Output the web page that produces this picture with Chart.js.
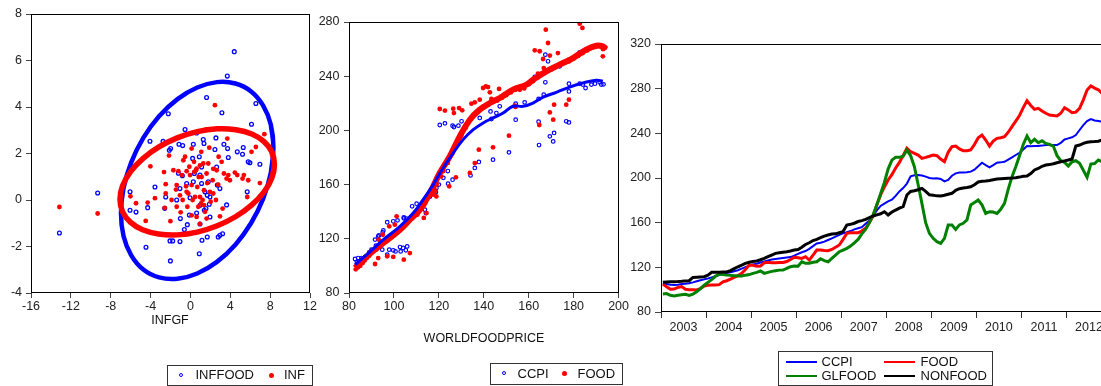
<!DOCTYPE html>
<html>
<head>
<meta charset="utf-8">
<script src="https://cdn.jsdelivr.net/npm/chart.js@4.4.0/dist/chart.umd.min.js"></script>
<style>
  body { margin: 0; width: 1101px; height: 386px; overflow: hidden; background: #fff; position: relative;
         font-family: "Liberation Sans", Arial, sans-serif; color: #111; }
  canvas { position: absolute; }
  .title { position: absolute; font-size: 12.5px; line-height: 14px; transform: translateX(-50%); white-space: nowrap; }
  .legend { position: absolute; border: 1px solid #333; background: #fff; }
  .item { position: absolute; font-size: 13px; line-height: 14px; white-space: nowrap; }
  .circ { position: absolute; width: 2px; height: 2px; border: 1.2px solid #0000ff; border-radius: 50%; }
  .dot { position: absolute; width: 5px; height: 5px; background: #ff0000; border-radius: 50%; }
  .sw { position: absolute; width: 31px; height: 2.5px; }
</style>
</head>
<body>
<canvas id="c1" width="320" height="320" style="left:0;top:0"></canvas>
<canvas id="c2" width="315" height="320" style="left:315px;top:0"></canvas>
<canvas id="c3" width="520" height="340" style="left:625px;top:0"></canvas>

<div class="title" style="left:170px;top:313px">INFGF</div>
<div class="title" style="left:484px;top:331px">WORLDFOODPRICE</div>

<div class="legend" style="left:167px;top:365px;width:144px;height:19px"></div>
<div class="circ" style="left:179px;top:372.5px"></div>
<div class="item" style="left:195.5px;top:368px">INFFOOD</div>
<div class="dot" style="left:268.5px;top:372.5px"></div>
<div class="item" style="left:284px;top:368px">INF</div>

<div class="legend" style="left:490px;top:363px;width:131px;height:20px"></div>
<div class="circ" style="left:501.5px;top:371px"></div>
<div class="item" style="left:517.5px;top:366.5px">CCPI</div>
<div class="dot" style="left:562px;top:371px"></div>
<div class="item" style="left:577.5px;top:366.5px">FOOD</div>

<div class="legend" style="left:778px;top:351px;width:213px;height:33px"></div>
<div class="sw" style="left:785.5px;top:360.5px;background:#0000ff;height:2px"></div>
<div class="item" style="left:821.5px;top:354.5px">CCPI</div>
<div class="sw" style="left:883.5px;top:360.5px;background:#ff0000"></div>
<div class="item" style="left:920.5px;top:354.5px">FOOD</div>
<div class="sw" style="left:785.5px;top:374.5px;background:#008000"></div>
<div class="item" style="left:821.5px;top:368.5px">GLFOOD</div>
<div class="sw" style="left:883.5px;top:374.5px;background:#000"></div>
<div class="item" style="left:920.5px;top:368.5px">NONFOOD</div>

<script>
// ---- panel 1: INFGF (x) vs INFFOOD / INF (y) ----
const inffoodPts = [[-13.15,-1.42],[-9.31,0.3],[-4.46,-2.03],[-6.06,-0.44],[-5.46,-0.52],[-6.06,0.35],[-4.29,-0.33],[-3.56,0.56],[-4.06,2.53],[-2.22,3.71],[-2.75,2.52],[-1.99,2.21],[-2.48,0.13],[-2.58,-0.36],[-2.05,-1.76],[-1.78,-1.76],[-2.01,-2.62],[-1.38,0],[-1.15,2.4],[-1.05,-1.79],[-1.01,-0.8],[-0.78,2.34],[-0.54,3.03],[-0.61,-1.27],[-0.31,-1.06],[-0.11,-0.65],[-0.04,0.1],[0.29,2.4],[0.29,0.78],[0.62,2.88],[0.62,-0.56],[0.96,-0.23],[0.89,-2.31],[0.96,-1.03],[1.16,-1.73],[1.29,2.6],[1.36,2.43],[1.62,4.41],[1.46,0.35],[1.56,-0.37],[1.96,-0.73],[1.69,-1.59],[1.79,0.78],[1.96,0.13],[2.46,2.17],[2.56,2.67],[2.63,1.42],[2.79,-1.59],[2.96,-1.52],[3.16,3.75],[3.23,-1.45],[3.36,2.4],[3.63,-0.21],[3.7,5.33],[3.8,1.83],[3.73,2.21],[4.4,6.38],[4.7,2.07],[5.23,1.97],[5.3,2.26],[5.7,0.35],[5.8,1.64],[5.97,1.6],[6.13,3.26],[6.57,4.15],[6.97,1.54],[2.7,0.64],[2.96,0.49],[-1.21,1.15],[-0.81,1.04],[0.22,1.79],[0.89,1.86],[1.12,1.42],[1.12,0.71],[1.39,-0.44],[1.89,-0.18],[-2.12,2.14],[0.39,1.14],[-0.38,0.71],[-1.05,0.49],[1.69,0.2],[0.96,1.07]];
const infPts = [[-13.15,-0.3],[-9.31,-0.58],[-4.49,-0.9],[-4.29,-0.11],[-4.02,1.45],[-5.46,-0.14],[-6.02,0.16],[-3.56,0.08],[-2.65,1.2],[-2.58,-0.34],[-2.48,0.68],[-2.48,0.28],[-2.15,1.91],[-2.01,-0.91],[-1.71,1.28],[-1.45,0.45],[-1.38,0.64],[-1.21,1.24],[-1.05,0.2],[-0.98,-0.53],[-0.84,1.07],[-0.78,0],[-0.71,1.71],[-0.54,1.86],[-0.44,0.59],[-0.38,1.24],[-0.31,-0.29],[-0.21,0.28],[-0.04,1.07],[0.12,2.21],[0.22,0],[0.36,1.64],[0.39,1.21],[0.56,1.28],[0.69,0.56],[0.79,-0.29],[0.83,0.99],[0.96,-1.03],[1.09,2.07],[1.22,0],[1.29,1.57],[1.36,0.42],[1.46,-0.51],[1.56,3.03],[1.62,1.14],[1.69,0.73],[1.79,1.57],[1.89,2.25],[1.96,0.35],[2.03,-0.07],[2.23,0.85],[2.29,1.34],[2.46,4.08],[2.56,0],[2.63,1.28],[2.79,0.66],[2.83,1.86],[2.96,-0.7],[3.13,1.64],[3.23,-0.37],[3.36,1.14],[3.63,0.92],[3.7,2.64],[3.8,1.07],[3.96,0.85],[4.46,1.18],[4.7,1.07],[5.23,0.92],[5.36,1.07],[5.8,0.85],[5.7,0.13],[6.13,2.07],[6.57,2.28],[6.97,0.73],[7.42,2.83],[0.12,-0.66],[0.62,-0.73],[1.62,-0.8],[-1.89,0],[-1.38,-0.29],[-0.38,0.35],[0.46,0.13],[0.96,0.13],[1.12,0.99],[0.12,0.64],[0.62,1.35],[0.96,1.49],[2.29,0.28],[1.06,-0.15],[1.36,-0.22],[-0.11,1.43]];
// outlines of the two ellipses, read around the curve
const inffoodEllipse = [[8.33,2.25],[8.07,3.24],[7.3,4.06],[6.09,4.67],[4.51,5.01],[2.66,5.07],[0.68,4.84],[-1.3,4.34],[-3.15,3.6],[-4.73,2.67],[-5.94,1.62],[-6.71,0.51],[-6.97,-0.57],[-6.71,-1.56],[-5.94,-2.38],[-4.73,-2.99],[-3.15,-3.33],[-1.3,-3.39],[0.68,-3.16],[2.66,-2.66],[4.51,-1.92],[6.09,-0.99],[7.3,0.06],[8.07,1.17]];
const infEllipse = [[8.43,1.53],[8.17,2.07],[7.39,2.51],[6.16,2.84],[4.56,3.02],[2.69,3.06],[0.68,2.94],[-1.33,2.67],[-3.2,2.27],[-4.8,1.77],[-6.03,1.21],[-6.81,0.61],[-7.07,0.03],[-6.81,-0.51],[-6.03,-0.95],[-4.8,-1.28],[-3.2,-1.46],[-1.33,-1.5],[0.68,-1.38],[2.69,-1.11],[4.56,-0.71],[6.16,-0.21],[7.39,0.35],[8.17,0.95]];

// ---- panel 2: WORLDFOODPRICE (x) vs CCPI / FOOD (y) ----
const ccpiPts = [[82.7,105.1],[84.1,105.8],[85.6,105.8],[87.1,106.6],[91.6,119.4],[93,121.8],[95,124.8],[97,132.2],[99.7,132.9],[101.6,133.6],[97.9,112],[99.7,111.5],[102.7,113.9],[104.1,113.2],[104.4,135.1],[105.6,134.9],[105.9,114.4],[105.3,111.5],[108.1,144],[110.1,145.9],[112.3,144],[113.8,141.5],[114.2,139],[118.9,157.5],[118.7,154.5],[120.4,204],[122.7,205.2],[126.1,203.5],[126.7,202.5],[128.7,203.5],[130.1,206.7],[124.1,160.7],[126.1,163.6],[134.1,166.8],[136,172.3],[137.8,176.7],[134.5,209.2],[138.2,209.2],[140,217.8],[143,214],[143.4,208.4],[145.6,212.8],[147.1,217.8],[144.1,178.4],[151.2,183.8],[154.2,219.7],[154.2,207.9],[158.2,220.7],[162.7,239.4],[164.4,223.2],[164.4,206.4],[164.6,189.2],[167.4,255.9],[168.6,251],[167.4,235.5],[166.7,226.4],[169.4,195.6],[170.9,191.9],[171.3,198.1],[173.8,247.3],[176.7,206.7],[177.9,205.9],[177.9,234.5],[177.9,228.8],[182.7,257.6],[182.7,234.5],[184.1,233.8],[185.3,231.3],[187.9,233.8],[189.5,234.5],[191.6,235.5],[192.3,233.8],[193.3,234],[93.3,122.5],[95.3,126.2],[104.4,135.8],[100.7,110.7],[103,110.7],[97,108.3],[94.8,112],[83.5,103],[86,104.5],[89,110],[90,112],[92,115],[94,118],[100,124],[103,128],[107,134],[111,142],[116,151],[120,160],[122,165],[124,170]];
const foodPts = [[120.4,215.8],[122.7,214.6],[126.4,216],[126.7,212.8],[129,216.5],[130.4,214.8],[134.5,219.7],[136,220.7],[138.2,222.7],[139.7,231.3],[140.9,232.5],[141.9,232],[142.7,228.1],[143.4,223.2],[146.8,230.6],[162.7,259.1],[164.9,258.4],[167.6,274.3],[168.6,264.5],[166.4,252.7],[169.4,255.2],[173,257.1],[177.9,252.2],[182.7,278.8],[183.9,275.6],[193,254.7],[161.9,236.2],[164.1,241.9],[166.7,246],[164.7,204],[169.4,213.3],[171.3,219],[170.9,207.9],[176.7,219],[177.9,222.7],[153.8,218.3],[154.1,217.3],[151.2,196.1],[144.1,187.5],[137.8,185.8],[136,175.9],[133.8,168.6],[127.6,165.4],[124.6,158.7],[114.5,139],[113.3,135.4],[110.4,137.8],[107.1,109.5],[104.4,104.6],[99.7,106.6],[97,107.1],[91.6,101.4],[93,105.8],[97.9,129.2],[100.4,130.4],[101.2,136.6],[95,123],[93.2,119.4],[117.5,152.6],[118.2,155],[118.9,151.3],[83,97.5],[84,99],[85,100],[86,102],[87,104],[88,106],[89,107.5],[90,110],[92,112],[94,115],[96,118],[98,121],[100,124],[102,126],[104,130],[106,133],[108,136],[110,139],[112,143],[114,147],[116,152],[118,157],[119,160],[121,166],[122,170],[124,176],[126,183],[128,189],[130,196],[132,202],[134,208],[136,212],[138,215],[140,217],[142,219],[144,221],[146,222],[148,224],[150,226],[152,228],[154,230],[156,230],[158,231],[160,234],[162,237],[164,239],[166,242],[168,244],[170,245],[172,247],[174,249],[176,250],[178,251],[180,253],[182,255],[184,257],[186,259],[188,261],[190,262],[192,262],[193,260],[194,261]];
const ccpiFit = [[82.7,100.9],[87.9,108.3],[95.3,119.4],[102.7,129.2],[108.6,139],[113,148.9],[117.5,160],[121.9,172.3],[126.4,183.3],[130.8,193.2],[135.3,200.5],[139.7,205.5],[144.1,209.2],[148.6,212.8],[153,217.8],[157.5,217.8],[161.9,220.2],[166.4,224.6],[172.3,228.1],[178.2,232],[184.1,235],[190.1,237],[193,236.2]];
const foodFit = [[82.7,98.5],[87.9,107],[95.3,116.9],[102.7,126.7],[107.1,134.1],[111.6,141.5],[116,153.8],[120.4,168.6],[124.9,180.9],[129.3,195.6],[133.8,207.9],[138.2,215.3],[142.7,220.2],[147.1,223.9],[153,230.1],[159,233.8],[161.9,237.4],[167.9,243.6],[173.8,248.5],[179.7,253.4],[185.6,259.6],[190.1,262.5],[193,262],[194.5,260]];

// ---- panel 3: monthly series from 2003M01 ----
const startYear = 2003;
const yearLabels = ['2003','2004','2005','2006','2007','2008','2009','2010','2011','2012'];
const ccpi = [105.7,105.0,104.5,104.2,104.5,105.0,105.3,105.7,106.5,107.5,108.4,109.2,
  110.0,111.0,112.0,113.0,114.0,114.8,115.5,116.5,117.4,118.8,120.2,121.5,
  122.5,123.2,124.3,125.3,126.2,127.0,127.5,128.0,128.4,128.8,129.2,130.5,
  132.0,133.5,134.6,136.5,139.0,141.3,142.0,143.0,144.5,146.0,147.5,149.0,
  150.4,151.5,152.5,154.0,155.0,156.0,159.0,162.0,166.0,171.0,175.0,177.0,
  179.0,180.5,184.0,188.0,191.0,195.0,201.5,202.5,202.7,202.3,201.2,200.0,
  199.5,199.7,199.2,197.0,198.2,202.0,204.2,205.0,205.0,205.2,205.7,207.5,
  210.5,213.7,211.5,209.5,211.5,213.7,214.0,214.5,216.5,218.5,220.6,222.5,
  225.5,228.6,228.5,228.6,228.6,229.0,229.5,229.5,229.5,229.5,231.5,234.5,
  235.5,236.5,238.5,243.0,247.4,251.0,252.8,251.5,251.0,250.4];
const food = [105.0,102.5,100.3,100.5,102.0,102.7,100.3,100.0,100.0,99.7,101.0,103.3,
  104.0,104.2,104.2,104.5,107.0,108.0,109.5,111.0,112.5,114.6,118.0,122.0,
  121.8,120.9,121.2,124.0,124.5,124.2,124.2,124.3,124.3,125.2,127.0,129.0,
  128.5,128.0,129.5,126.5,131.0,135.5,135.5,135.0,134.9,136.0,138.0,140.0,
  145.0,150.4,151.0,151.0,151.0,152.5,155.0,160.0,166.0,176.0,184.8,192.0,
  198.2,203.0,209.0,214.0,220.0,226.6,223.5,222.1,220.5,217.6,218.5,219.5,
  220.6,220.0,217.0,214.6,223.0,228.0,228.6,226.0,224.5,224.5,225.1,230.0,
  236.0,238.5,234.0,228.6,233.0,235.5,236.0,237.0,241.0,246.0,251.0,256.0,
  263.0,269.2,265.0,261.5,262.4,260.0,258.0,256.4,256.0,255.5,258.0,263.0,
  261.0,258.5,259.0,262.4,270.0,278.8,282.4,280.5,279.0,275.8];
const glfood = [96.1,96.5,95.0,94.3,95.0,95.5,95.8,94.9,96.0,98.2,101.0,104.0,
  106.5,109.0,112.0,114.0,113.5,113.1,112.8,112.5,112.2,112.2,113.0,113.5,
  114.6,115.5,116.7,114.6,115.5,116.4,117.0,117.5,117.6,119.0,120.6,121.2,
  121.0,125.0,123.6,123.6,124.5,125.0,127.7,126.0,125.0,128.0,131.0,134.0,
  135.5,137.0,139.0,142.0,145.0,150.0,154.0,160.0,167.0,176.0,186.0,196.0,
  208.0,216.0,218.5,218.5,219.5,225.0,220.0,210.1,194.0,177.3,160.0,150.4,
  146.0,143.0,141.5,146.0,157.9,157.9,154.0,158.0,159.4,162.4,175.8,178.0,
  180.3,176.0,168.3,169.8,169.5,168.3,172.0,177.3,190.0,201.2,210.0,220.0,
  230.0,237.6,231.6,234.6,231.6,233.4,231.0,230.0,228.6,220.0,215.5,214.0,
  210.7,214.6,215.5,213.1,207.0,200.6,212.5,213.0,216.1,214.6];
const nonfood = [106.6,106.8,107.0,107.2,107.3,107.5,107.8,108.0,111.0,111.2,111.4,111.6,
  113.0,115.5,115.6,115.7,115.8,115.8,117.0,118.8,120.5,122.0,123.6,124.5,
  125.2,125.7,126.8,128.0,129.5,131.0,132.5,133.0,133.5,134.0,134.6,135.5,
  136.0,138.0,140.5,142.0,144.0,145.0,146.5,148.0,149.0,149.8,150.0,151.0,
  152.0,157.9,158.5,159.5,161.0,161.8,163.0,164.5,166.0,167.0,168.0,169.8,
  166.9,169.5,171.3,173.0,174.3,184.8,188.0,188.6,189.5,190.7,188.0,185.0,
  184.5,184.0,183.9,184.5,185.5,186.3,189.0,190.4,191.0,191.5,192.2,194.0,
  196.4,197.0,197.3,197.8,198.5,199.1,199.3,199.5,199.7,199.9,200.3,200.8,
  201.5,201.8,204.0,207.2,208.5,210.5,211.6,212.0,212.8,213.7,214.5,215.3,
  216.1,217.0,228.6,229.5,231.0,232.0,232.5,232.7,233.0,234.0];

const FONT = { family: '"Liberation Sans", Arial, sans-serif', size: 12.5 };
Chart.defaults.font = FONT;
Chart.defaults.color = '#222';

const pts = arr => arr.map(p => ({ x: p[0], y: p[1] }));
// close a traced outline: wrap neighbours so the smoothing is continuous at the seam
const loop = arr => pts([arr[arr.length - 1], ...arr, arr[0], arr[1]]);
const monthly = arr => arr.map((v, i) => ({ x: startYear + (i + 0.5) / 12, y: v }));

const framePlugin = {
  id: 'frame',
  afterDraw(chart) {
    const { ctx, chartArea: a } = chart;
    ctx.save();
    ctx.strokeStyle = '#000';
    ctx.lineWidth = 1;
    ctx.strokeRect(Math.round(a.left) + 0.5, Math.round(a.top) + 0.5,
      Math.round(a.right - a.left) - 1, Math.round(a.bottom - a.top) - 1);
    ctx.restore();
  }
};

function yAxis(min, max, step, width, pad, tick) {
  return {
    min, max, ticks: { stepSize: step, padding: pad, color: '#222' },
    grid: { drawOnChartArea: false, tickLength: tick, tickColor: '#444' },
    border: { display: false },
    afterFit: s => { s.width = width; }
  };
}
function xAxis(min, max, step, height, pad) {
  return {
    type: 'linear', min, max, ticks: { stepSize: step, padding: pad, color: '#222', maxRotation: 0 },
    grid: { drawOnChartArea: false, tickLength: 5, tickColor: '#444' },
    border: { display: false },
    afterFit: s => { s.height = height; }
  };
}
const common = {
  responsive: false, animation: false,
  plugins: { legend: { display: false }, tooltip: { enabled: false } }
};

new Chart(document.getElementById('c1'), {
  type: 'scatter',
  data: { datasets: [
    { data: loop(infEllipse), showLine: true, borderColor: '#ff0000', borderWidth: 5.5, pointRadius: 0, tension: 0.4 },
    { data: loop(inffoodEllipse), showLine: true, borderColor: '#0000ff', borderWidth: 4.5, pointRadius: 0, tension: 0.4 },
    { data: pts(infPts), backgroundColor: '#ff0000', borderWidth: 0, pointRadius: 2.4 },
    { data: pts(inffoodPts), backgroundColor: 'rgba(0,0,0,0)', borderColor: '#0000ff', borderWidth: 1.3, pointRadius: 1.9 }
  ]},
  options: { ...common,
    layout: { padding: { top: 14, right: 10, left: 0, bottom: 0 } },
    scales: { x: xAxis(-16, 12, 4, 27, 1), y: yAxis(-4, 8, 2, 31, 4, 5) }
  },
  plugins: [framePlugin]
});

new Chart(document.getElementById('c2'), {
  type: 'scatter',
  data: { datasets: [
    { data: pts(ccpiFit), showLine: true, borderColor: '#0000ff', borderWidth: 3, pointRadius: 0, tension: 0.4 },
    { data: pts(foodFit), showLine: true, borderColor: '#ff0000', borderWidth: 6, pointRadius: 0, tension: 0.4 },
    { data: pts(foodPts), backgroundColor: '#ff0000', borderWidth: 0, pointRadius: 2.4 },
    { data: pts(ccpiPts), backgroundColor: 'rgba(0,0,0,0)', borderColor: '#0000ff', borderWidth: 1.2, pointRadius: 1.8 }
  ]},
  options: { ...common,
    layout: { padding: { top: 22, right: 11, left: 0, bottom: 0 } },
    scales: { x: xAxis(80, 200, 20, 27, 1), y: yAxis(80, 280, 40, 34, 4.5, 5) }
  },
  plugins: [framePlugin]
});

new Chart(document.getElementById('c3'), {
  type: 'line',
  data: { datasets: [
    { data: monthly(nonfood), borderColor: '#000000', borderWidth: 3 },
    { data: monthly(glfood), borderColor: '#008000', borderWidth: 3 },
    { data: monthly(food), borderColor: '#ff0000', borderWidth: 3 },
    { data: monthly(ccpi), borderColor: '#0000ff', borderWidth: 2 }
  ]},
  options: { ...common,
    elements: { point: { radius: 0 }, line: { tension: 0 } },
    layout: { padding: { top: 44, right: 20, left: 0, bottom: 0 } },
    scales: {
      x: {
        type: 'linear', min: 2003, max: 2013.3,
        afterBuildTicks: s => {
          const t = [];
          yearLabels.forEach((lab, i) => { t.push({ value: startYear + i }); t.push({ value: startYear + i + 0.5 }); });
          t.push({ value: startYear + yearLabels.length });
          s.ticks = t;
        },
        ticks: { autoSkip: false, maxRotation: 0, padding: 2, color: '#222',
          callback: v => Number.isInteger(v) ? '' : yearLabels[Math.floor(v) - startYear] },
        grid: { drawOnChartArea: false, tickLength: 6,
          tickColor: c => Number.isInteger(c.tick.value) ? '#333' : 'rgba(0,0,0,0)' },
        border: { display: false },
        afterFit: s => { s.height = 28; }
      },
      y: yAxis(80, 320, 40, 36, 4, 6)
    }
  },
  plugins: [framePlugin]
});
</script>
</body>
</html>
